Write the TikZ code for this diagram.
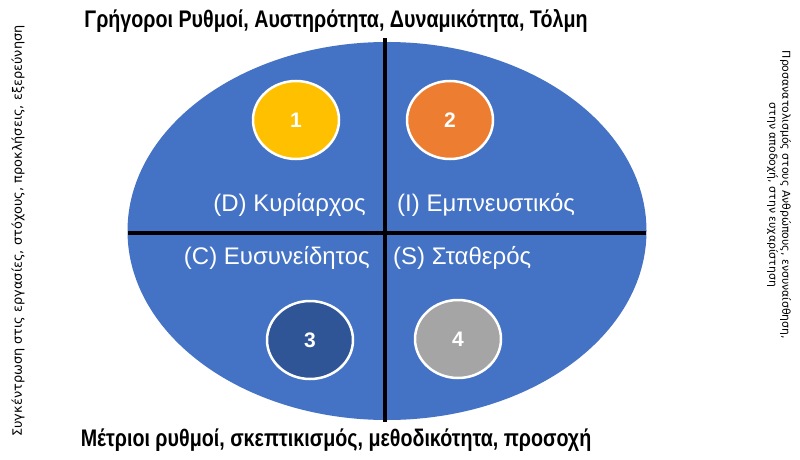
\documentclass[tikz,border=0pt]{standalone}
\usepackage{fontspec}
\setmainfont{Liberation Sans}
\newfontfamily\sidefont{DejaVu Sans}
\usetikzlibrary{shapes.geometric}
\definecolor{ellblue}{HTML}{4472C4}
\definecolor{cyellow}{HTML}{FFC000}
\definecolor{corange}{HTML}{ED7D31}
\definecolor{cdark}{HTML}{2F5597}
\definecolor{cgray}{HTML}{A5A5A5}
\newcommand{\narrowtext}[1]{\scalebox{0.82}[1]{#1}}
\tikzset{
  dot/.style={ellipse, minimum width=86pt, minimum height=78pt, draw=white, line width=2.5pt, inner sep=0pt,
    text=white, font=\fontsize{21}{21}\selectfont\bfseries},
  quad/.style={text=white, font=\fontsize{24}{24}\selectfont, inner sep=0pt},
  heading/.style={font=\fontsize{24}{24}\selectfont\bfseries, inner sep=0pt},
  divider/.style={line width=4pt, black}
}
\begin{document}
\begin{tikzpicture}[x=1pt,y=-1pt]
\useasboundingbox (0,0) rectangle (800,460);
\fill[white] (0,0) rectangle (800,460);
\fill[ellblue] (387,231) ellipse [x radius=259.5, y radius=189];
\coordinate (vt) at (385,38);
\coordinate (vb) at (385,422);
\coordinate (hl) at (128,233);
\coordinate (hr) at (646,233);
\draw[divider] (vt) -- (vb);
\draw[divider] (hl) -- (hr);
\node[dot, fill=cyellow] (c1) at (296,120) {1};
\node[dot, fill=corange] (c2) at (450,120) {2};
\node[dot, fill=cdark] (c3) at (310,340) {3};
\node[dot, fill=cgray] (c4) at (458,339) {4};
\node[quad, anchor=east] (d) at (366,205) {(D) Κυρίαρχος};
\node[quad, anchor=west] (i) at (397,205) {(I) Εμπνευστικός};
\node[quad, anchor=east] (c) at (370,258) {(C) Ευσυνείδητος};
\node[quad, anchor=west] (s) at (393,258) {(S) Σταθερός};
\node[heading] (top) at (336,21) {\narrowtext{Γρήγοροι Ρυθμοί, Αυστηρότητα, Δυναμικότητα, Τόλμη}};
\node[heading] (bottom) at (336,440) {\narrowtext{Μέτριοι ρυθμοί, σκεπτικισμός, μεθοδικότητα, προσοχή}};
\node[rotate=90, font=\sidefont\fontsize{12.9}{14}\selectfont, inner sep=0pt] (left) at (18,231) {Συγκέντρωση στις εργασίες, στόχους, προκλήσεις, εξερεύνηση};
\node[rotate=-90, font=\sidefont\fontsize{10.9}{13}\selectfont, inner sep=0pt, align=center] (right) at (779,195) {Προσανατολισμός στους Ανθρώπους, ενσυναίσθηση,\\στην αποδοχή, στην ευχαρίστηση};
\end{tikzpicture}
\end{document}
